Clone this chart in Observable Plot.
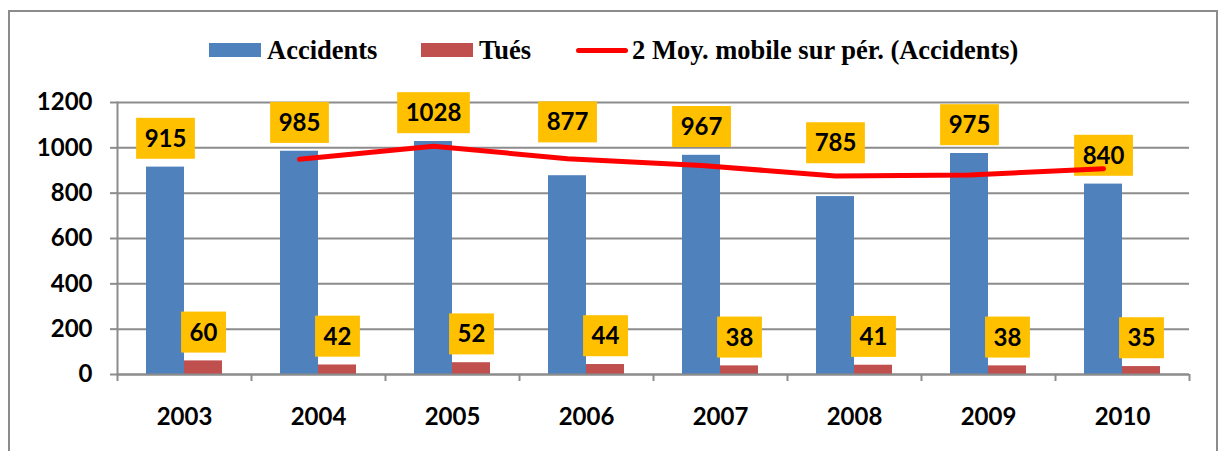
<!DOCTYPE html>
<html><head><meta charset="utf-8">
<script src="https://cdn.jsdelivr.net/npm/d3@7"></script>
<script src="https://cdn.jsdelivr.net/npm/@observablehq/plot@0.6"></script>
<style>
body{margin:0;background:#fff;}
#wrap{position:relative;width:1218px;height:451px;overflow:hidden;background:#fff;}
#frame{position:absolute;left:8px;top:10px;width:1210px;height:480px;border:2px solid #8c8c8c;box-sizing:border-box;pointer-events:none;}
#legend{position:relative;height:80px;font-family:"Liberation Serif","Times New Roman",serif;font-weight:bold;font-size:26.5px;color:#000;}
.item{position:absolute;top:36px;display:flex;align-items:center;height:28px;white-space:nowrap;}
.sw{display:inline-block;width:52px;height:14px;margin-right:6px;}
.ln{display:inline-block;width:52px;height:5px;border-radius:3px;margin-right:4px;}
</style></head>
<body><div id="wrap"><div id="legend"></div><div id="chart"></div><div id="frame"></div></div>
<script>
const years = ["2003","2004","2005","2006","2007","2008","2009","2010"];
const accidents = [915,985,1028,877,967,785,975,840];
const tues = [60,42,52,44,38,41,38,35];
const maYears = ["2004","2005","2006","2007","2008","2009","2010"];
const movingAvg = [950,1007,952,922,876,880,908];
const yTicks = [0,200,400,600,800,1000,1200];
const seriesNames = ["Accidents","Tués","2 Moy. mobile sur pér. (Accidents)"];
const colors = ["#4F81BD","#C0504D","#FF0000"];

// labels lifted clear of the moving-average line (style choice)
const raisedLabels = new Set(["2006","2008"]);

// legend
const legend = document.getElementById("legend");
const legendLeft = [209, 421, 576];
seriesNames.forEach((name, i) => {
  const it = document.createElement("div");
  it.className = "item";
  it.style.left = legendLeft[i] + "px";
  const sw = document.createElement("span");
  sw.className = i === 2 ? "ln" : "sw";
  sw.style.background = colors[i];
  const tx = document.createElement("span");
  tx.textContent = name;
  it.appendChild(sw); it.appendChild(tx);
  legend.appendChild(it);
});

const rows = years.map((y, i) => ({year: y, accidents: accidents[i], tues: tues[i]}));
const ma = maYears.map((y, i) => ({year: y, value: movingAvg[i]}));
const gray = "#8c8c8c";
const font = "Lato, sans-serif";
const lblStyle = {fontSize: 24, fontWeight: "bold", fill: "#000", className: "lbl"};

const plot = Plot.plot({
  width: 1218, height: 371,
  marginLeft: 117, marginRight: 29, marginTop: 22, marginBottom: 77,
  style: {fontFamily: font, fontWeight: "bold", fontSize: "24px", color: "#000", background: "transparent", overflow: "visible"},
  x: {type: "band", domain: years, padding: 0},
  y: {domain: [0, 1200]},
  marks: [
    Plot.gridY(yTicks, {stroke: gray, strokeOpacity: 1, strokeWidth: 2}),
    Plot.axisY(yTicks, {tickSize: 7, tickPadding: 18, stroke: gray, strokeWidth: 2, strokeOpacity: 1, label: null, fontSize: 24, fontWeight: "bold", fill: "#000", tickFormat: d => String(d)}),
    Plot.barY(rows, {x: "year", y: "accidents", fill: colors[0], insetLeft: 29, insetRight: 67}),
    Plot.barY(rows, {x: "year", y: "tues", fill: colors[1], insetLeft: 67, insetRight: 29}),
    Plot.ruleY([0], {stroke: gray, strokeWidth: 2}),
    Plot.frame({anchor: "left", stroke: gray, strokeWidth: 2}),
    Plot.axisX({tickSize: 7, text: null, dx: -67, stroke: gray, strokeWidth: 2, strokeOpacity: 1, label: null}),
    Plot.axisX(["2010"], {tickSize: 7, text: null, dx: 67, stroke: gray, strokeWidth: 2, strokeOpacity: 1, label: null}),
    Plot.axisX({tickSize: 0, tickPadding: 33, label: null, fontSize: 24, fontWeight: "bold", fill: "#000"}),
    Plot.text(rows, {x: "year", y: "accidents", text: d => String(d.accidents), filter: d => !raisedLabels.has(d.year), dx: -19, dy: -28, ...lblStyle}),
    Plot.text(rows, {x: "year", y: "accidents", text: d => String(d.accidents), filter: d => raisedLabels.has(d.year), dx: -19, dy: -53, ...lblStyle}),
    Plot.text(rows, {x: "year", y: "tues", text: d => String(d.tues), dx: 19, dy: -28, ...lblStyle}),
    Plot.line(ma, {x: "year", y: "value", dx: -19, stroke: colors[2], strokeWidth: 5, strokeLinecap: "round", strokeLinejoin: "round"})
  ]
});
document.getElementById("chart").appendChild(plot);

// yellow boxes behind data labels
plot.querySelectorAll("g.lbl text").forEach(t => {
  const b = t.getBBox();
  const r = document.createElementNS("http://www.w3.org/2000/svg", "rect");
  const padX = 8.5, h = 41;
  r.setAttribute("x", b.x - padX);
  r.setAttribute("y", b.y + b.height / 2 - h / 2 + 1);
  r.setAttribute("width", b.width + 2 * padX);
  r.setAttribute("height", h);
  r.setAttribute("fill", "#FFC000");
  if (t.getAttribute("transform")) r.setAttribute("transform", t.getAttribute("transform"));
  t.parentNode.insertBefore(r, t);
});
</script>
</body></html>
